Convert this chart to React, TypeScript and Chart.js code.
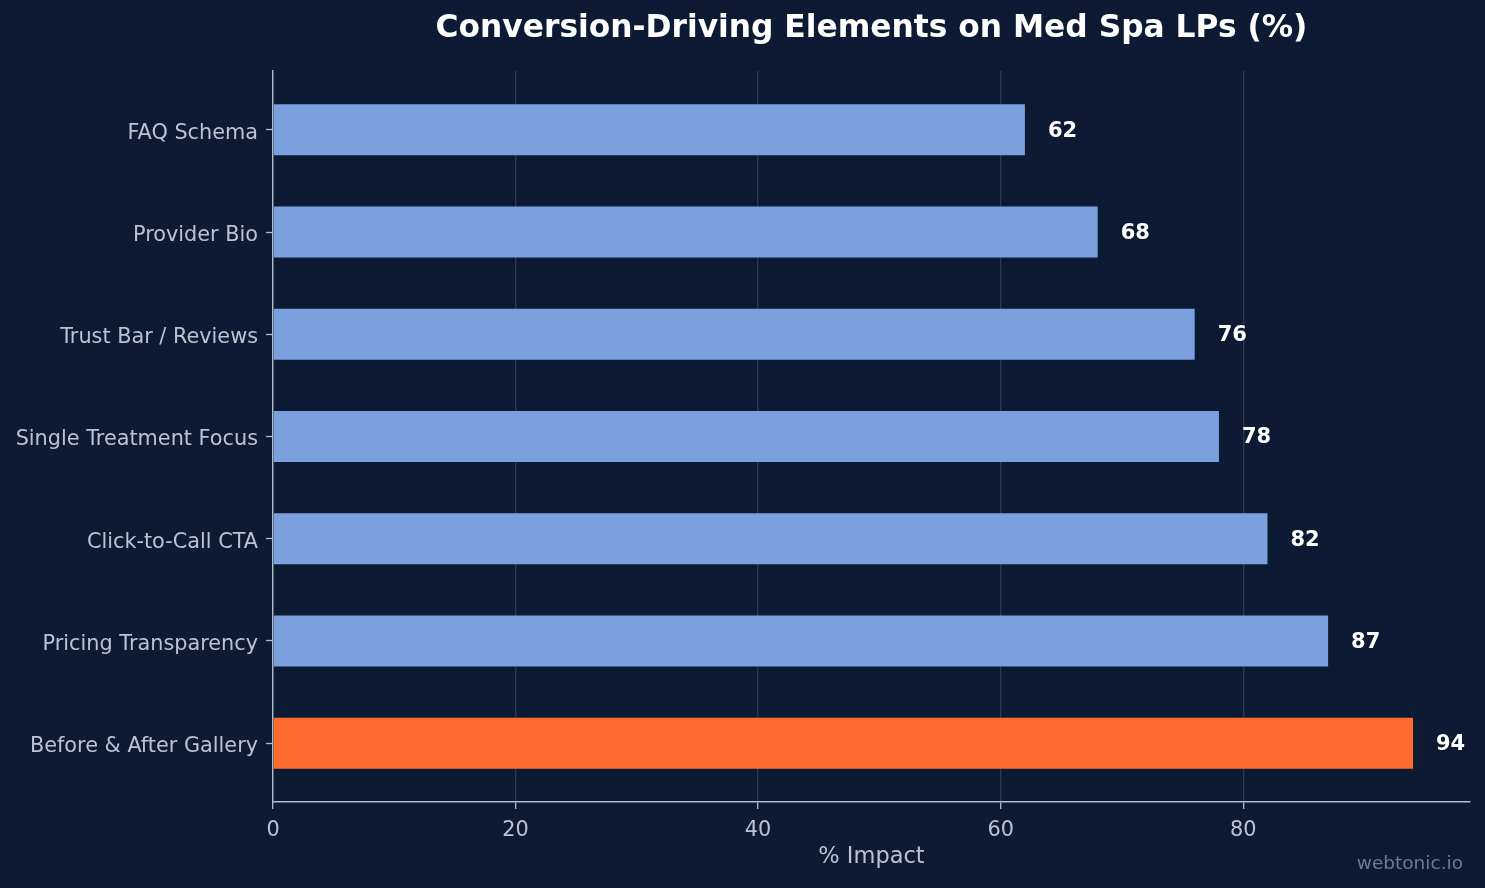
import React, { useEffect, useRef } from "react";
import { Chart, registerables } from "chart.js";

Chart.register(...registerables);

// bottom-to-top order (index 0 at bottom)
const categories = [
  "Before & After Gallery",
  "Pricing Transparency",
  "Click-to-Call CTA",
  "Single Treatment Focus",
  "Trust Bar / Reviews",
  "Provider Bio",
  "FAQ Schema",
];
const impactValues = [94, 87, 82, 78, 76, 68, 62];
const barColors = ["#ff6b2e", "#7aa0dd", "#7aa0dd", "#7aa0dd", "#7aa0dd", "#7aa0dd", "#7aa0dd"];
const xTicks = [0, 20, 40, 60, 80];
const chartTitle = "Conversion-Driving Elements on Med Spa LPs (%)";
const xAxisTitle = "% Impact";
const watermark = "webtonic.io";

const BG = "#0c1b33";
const AXIS = "#b0bac8";
const TICK_TEXT = "#b9c3d2";
const FONT = '"DejaVu Sans", sans-serif';

export default function App() {
  const ref = useRef<HTMLCanvasElement | null>(null);

  useEffect(() => {
    document.body.style.margin = "0";
    document.body.style.background = BG;
    const canvas = ref.current;
    if (!canvas) return;

    const overlay = {
      id: "overlay",
      beforeDraw(chart: any) {
        const { ctx, width, height } = chart;
        ctx.save();
        ctx.fillStyle = BG;
        ctx.fillRect(0, 0, width, height);
        ctx.restore();
      },
      afterDatasetsDraw(chart: any) {
        const { ctx } = chart;
        const meta = chart.getDatasetMeta(0);
        ctx.save();
        ctx.font = `bold 21px ${FONT}`;
        ctx.fillStyle = "#ffffff";
        ctx.textAlign = "left";
        ctx.textBaseline = "middle";
        meta.data.forEach((bar: any, i: number) => {
          ctx.fillText(String(impactValues[i]), bar.x + 23, bar.y + 1.5);
        });
        ctx.restore();
      },
      afterDraw(chart: any) {
        const { ctx, chartArea } = chart;
        ctx.save();
        ctx.font = `bold 31.3px ${FONT}`;
        ctx.fillStyle = "#ffffff";
        ctx.textAlign = "center";
        ctx.textBaseline = "middle";
        ctx.fillText(chartTitle, (chartArea.left + chartArea.right) / 2, 29);
        ctx.font = `18.5px ${FONT}`;
        ctx.fillStyle = "#6c7b93";
        ctx.textAlign = "right";
        ctx.textBaseline = "middle";
        ctx.fillText(watermark, 1463, 864);
        ctx.restore();
      },
    };

    const chart = new Chart(canvas, {
      type: "bar",
      data: {
        datasets: [
          {
            data: impactValues.map((v, i) => ({ x: v, y: i })),
            backgroundColor: barColors,
            borderWidth: 0,
            barPercentage: 0.5,
            categoryPercentage: 1,
          },
        ],
      },
      options: {
        indexAxis: "y",
        responsive: false,
        animation: false,
        devicePixelRatio: 1,
        layout: { padding: { top: 71, right: 15, bottom: 0, left: 0 } },
        plugins: {
          legend: { display: false },
          title: { display: false },
          tooltip: { enabled: false },
        },
        scales: {
          x: {
            type: "linear",
            min: 0,
            max: 98.7,
            z: 1,
            afterFit(scale: any) {
              scale.height = 86;
            },
            afterBuildTicks(scale: any) {
              scale.ticks = xTicks.map((v) => ({ value: v }));
            },
            grid: {
              color: "rgba(255,255,255,0.13)",
              lineWidth: 1.4,
              drawTicks: true,
              tickLength: 7,
              tickColor: AXIS,
              tickWidth: 1.3,
            },
            border: { display: true, color: AXIS, width: 1.4 },
            ticks: {
              color: TICK_TEXT,
              font: { family: FONT, size: 20.8 },
              padding: 9,
              maxRotation: 0,
            },
            title: {
              display: true,
              text: xAxisTitle,
              color: TICK_TEXT,
              font: { family: FONT, size: 22.5 },
              padding: { top: 0, bottom: 17 },
            },
          },
          y: {
            type: "linear",
            min: -0.575,
            max: 6.575,
            offset: false,
            afterFit(scale: any) {
              scale.width = 273;
            },
            afterBuildTicks(scale: any) {
              scale.ticks = categories.map((_, i) => ({ value: i }));
            },
            grid: {
              offset: false,
              drawOnChartArea: false,
              drawTicks: true,
              tickLength: 7,
              tickColor: AXIS,
              tickWidth: 1.3,
            },
            border: { display: true, color: AXIS, width: 1.4 },
            ticks: {
              color: TICK_TEXT,
              font: { family: FONT, size: 20.8 },
              padding: 8,
              labelOffset: 3.5,
              callback: (v: any) => categories[Number(v)] ?? "",
            },
          },
        },
      },
      plugins: [overlay],
    } as any);

    return () => chart.destroy();
  }, []);

  return (
    <div style={{ width: 1485, height: 888, background: BG }}>
      <canvas ref={ref} width={1485} height={888} style={{ display: "block" }} />
    </div>
  );
}
